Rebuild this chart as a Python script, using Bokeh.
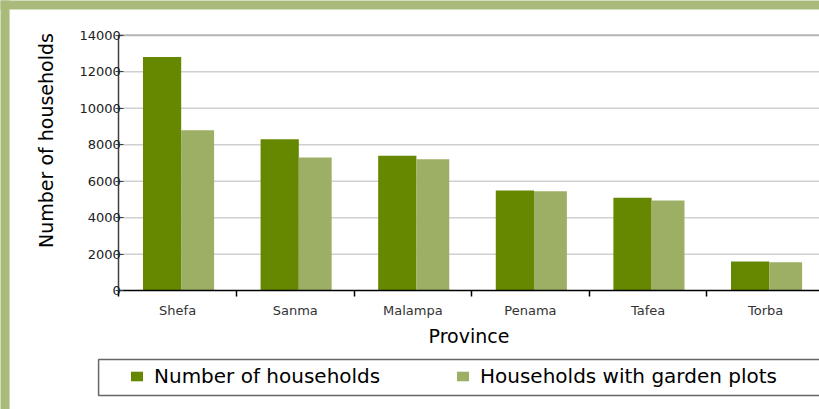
from math import pi

from bokeh.plotting import figure
from bokeh.models import (Range1d, FixedTicker, Legend, LegendItem, BoxAnnotation,
                          Label, ColumnDataSource)
from bokeh.embed import file_html
from bokeh.resources import INLINE

# ---- data -------------------------------------------------------------
provinces = ["Shefa", "Sanma", "Malampa", "Penama", "Tafea", "Torba"]
households = [12800, 8300, 7400, 5500, 5100, 1600]
garden_households = [8800, 7300, 7200, 5450, 4950, 1560]
y_ticks = [0, 2000, 4000, 6000, 8000, 10000, 12000, 14000]
series_names = ["Number of households", "Households with garden plots"]

DARK = "#668800"
LIGHT = "#9caf64"
FRAME = "#a9bb7a"
FONT = "DejaVu Sans"

idx = list(range(len(provinces)))
src = ColumnDataSource(dict(
    prov=provinces,
    x_dark=[i + 0.368 for i in idx],
    x_light=[i + 0.67 for i in idx],
    n=households,
    g=garden_households,
))

# whole canvas is the plotting frame; axes are pinned at x=0 / y=0
p = figure(width=819, height=409, min_border=0,
           x_range=Range1d(-1.006, 5.958), y_range=Range1d(-6502, 15900),
           output_backend="svg", toolbar_location=None,
           background_fill_color="white", border_fill_color="white",
           outline_line_color=None)

# grid lines (only over the category area)
grid_src = ColumnDataSource(dict(y=y_ticks[1:-1]))
p.segment(x0=0, x1=len(provinces), y0="y", y1="y", source=grid_src,
          line_color="#d0d0d0", line_width=1.5)
p.segment(x0=0, x1=len(provinces), y0=y_ticks[-1], y1=y_ticks[-1],
          line_color="#b5b5b5", line_width=2)

r1 = p.vbar(x="x_dark", top="n", width=0.325, source=src,
            fill_color=DARK, line_color=None)
r2 = p.vbar(x="x_light", top="g", width=0.28, source=src,
            fill_color=LIGHT, line_color=None)

p.xgrid.visible = False
p.ygrid.visible = False

# ---- x axis -------------------------------------------------------------
xa = p.xaxis[0]
xa.fixed_location = 0
xa.bounds = (0, len(provinces))
xa.ticker = FixedTicker(ticks=[i + 0.5 for i in idx], minor_ticks=list(range(0, 7)))
xa.major_label_overrides = {i + 0.5: name for i, name in zip(idx, provinces)}
xa.major_tick_line_color = None
xa.major_tick_out = 0
xa.major_tick_in = 0
xa.minor_tick_line_color = "black"
xa.minor_tick_out = 6
xa.minor_tick_in = 0
xa.minor_tick_line_width = 1.5
xa.axis_line_color = "black"
xa.axis_line_width = 1.5
xa.major_label_text_font = FONT
xa.major_label_text_font_size = "13px"
xa.major_label_text_color = "#333333"
xa.major_label_standoff = 6
xa.axis_label = "Province"
xa.axis_label_text_font = FONT
xa.axis_label_text_font_size = "19px"
xa.axis_label_text_font_style = "normal"
xa.axis_label_text_color = "black"
xa.axis_label_standoff = 4

# ---- y axis -------------------------------------------------------------
ya = p.yaxis[0]
ya.fixed_location = 0
ya.bounds = (y_ticks[0], y_ticks[-1])
ya.ticker = FixedTicker(ticks=y_ticks)
ya.axis_line_color = "#404040"
ya.axis_line_width = 1.5
ya.major_tick_in = 5
ya.major_tick_out = 3
ya.major_tick_line_color = "#404040"
ya.minor_tick_line_color = None
ya.major_label_text_font = FONT
ya.major_label_text_font_size = "13px"
ya.major_label_text_color = "#222222"
ya.major_label_standoff = -5

p.add_layout(Label(x=-0.615, y=8232, text="Number of households", angle=pi / 2,
                   text_align="center", text_baseline="middle",
                   text_font=FONT, text_font_size="19px", text_color="black"))

# ---- legend -------------------------------------------------------------
legend = Legend(items=[LegendItem(label=series_names[0], renderers=[r1]),
                       LegendItem(label=series_names[1], renderers=[r2])],
                orientation="horizontal", location=(129, 21),
                padding=7, spacing=11, glyph_width=15, glyph_height=12,
                label_width=290, label_standoff=10,
                label_text_font=FONT, label_text_font_size="20px",
                label_text_color="black",
                border_line_color=None, background_fill_alpha=0)
p.add_layout(legend, "center")

p.add_layout(BoxAnnotation(left=-0.172, right=6.05, top=-3763, bottom=-5735,
                           fill_alpha=0, line_color="#666666", line_alpha=1,
                           line_width=1.5, level="overlay"))

# ---- green frame ---------------------------------------------------------
p.add_layout(BoxAnnotation(left=-1.2, right=7, top=17000, bottom=15408,
                           fill_color=FRAME, fill_alpha=1, line_color=None,
                           level="overlay"))
p.add_layout(BoxAnnotation(left=-1.2, right=-0.929, top=17000, bottom=-8000,
                           fill_color=FRAME, fill_alpha=1, line_color=None,
                           level="overlay"))

open("out.html", "w").write(file_html(p, INLINE))
